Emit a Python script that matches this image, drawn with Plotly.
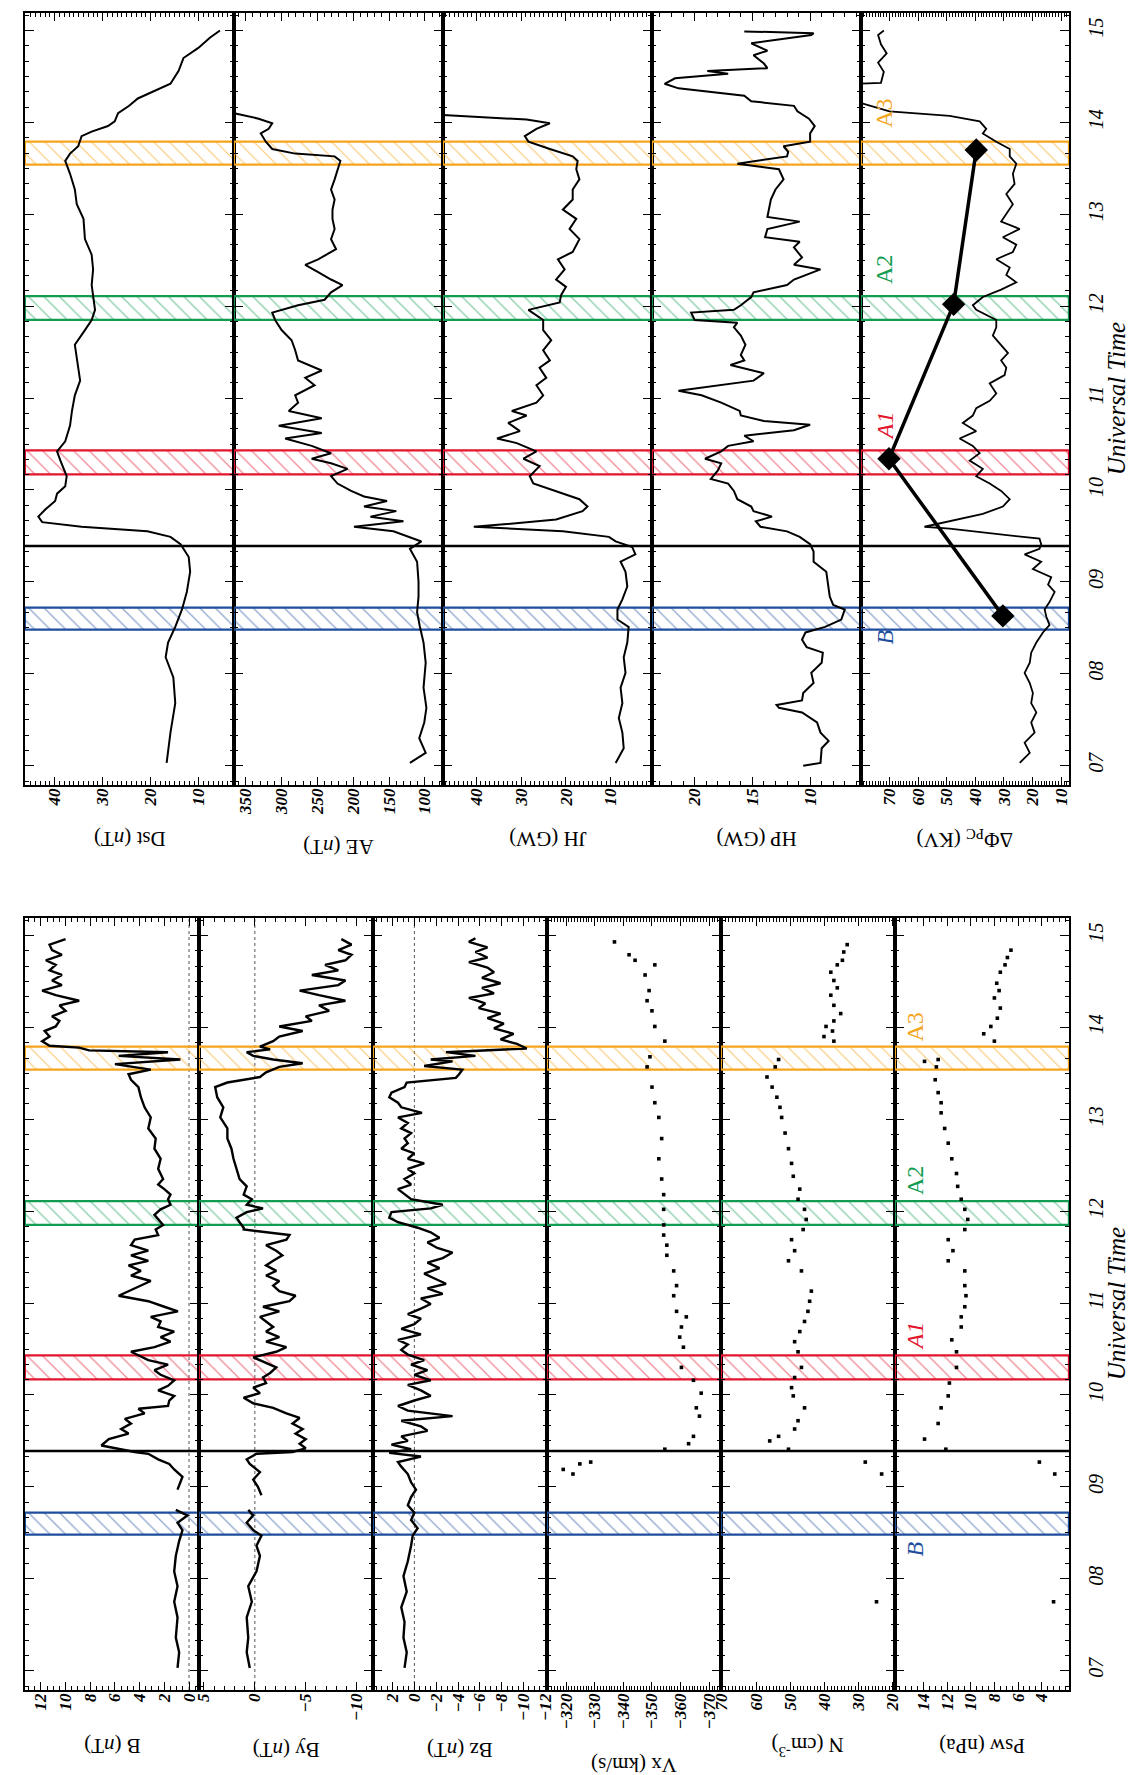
import plotly.graph_objects as go

W, H = 1136, 1775
SERIF = "Liberation Serif"

# ---------------- time axis ----------------
hours = [7, 8, 9, 10, 11, 12, 13, 14, 15]
hour_labels = ["07", "08", "09", "10", "11", "12", "13", "14", "15"]

# ---------------- event intervals ----------------
band_names = ["B", "A1", "A2", "A3"]
band_start = [8.48, 10.17, 11.85, 13.54]
band_end = [8.72, 10.43, 12.11, 13.79]
band_colors = ["#1f4e9e", "#e3142d", "#119c52", "#f5a41c"]
shock_time = 9.39

# ---------------- top block series ----------------
dst_t = [7.03, 7.36, 7.68, 7.96, 8.18, 8.34, 8.51, 8.70, 8.89, 9.11, 9.27, 9.41, 9.49, 9.55, 9.60, 9.65,
         9.71, 9.79, 9.88, 9.96, 10.04, 10.15, 10.32, 10.42, 10.53, 10.70, 10.86, 11.03, 11.19, 11.41,
         11.58, 11.74, 11.85, 11.96, 12.10, 12.23, 12.40, 12.56, 12.73, 12.95, 13.11, 13.27, 13.44,
         13.58, 13.66, 13.74, 13.85, 13.90, 13.96, 14.01, 14.10, 14.18, 14.26, 14.34, 14.42, 14.56,
         14.70, 14.81, 14.92, 15.0]
dst_v = [16.7, 15.9, 14.9, 15.3, 16.9, 16.4, 14.9, 13.5, 12.5, 11.8, 12.1, 13.8, 15.9, 20.7, 34.4, 42.6,
         43.4, 41.9, 39.9, 39.5, 37.8, 37.5, 38.8, 39.5, 37.8, 36.8, 36.4, 35.8, 34.7, 35.4,
         35.8, 33.7, 32.3, 31.6, 32.0, 32.3, 32.0, 32.3, 33.7, 34.0, 35.4, 35.8, 36.8,
         37.8, 36.8, 35.1, 34.4, 32.3, 28.9, 27.5, 26.8, 24.5, 22.7, 19.3, 15.9, 14.2,
         13.2, 10.1, 7.7, 5.6]

ae_t = [7.03, 7.14, 7.30, 7.47, 7.63, 7.85, 8.12, 8.34, 8.51, 8.67, 8.84, 9.00, 9.22, 9.36, 9.44, 9.49,
        9.55, 9.60, 9.66, 9.71, 9.77, 9.82, 9.88, 9.93, 9.99, 10.07, 10.15, 10.23, 10.29, 10.34, 10.40,
        10.48, 10.56, 10.62, 10.70, 10.78, 10.86, 10.95, 11.03, 11.14, 11.22, 11.30, 11.41, 11.52,
        11.63, 11.74, 11.85, 11.93, 12.01, 12.07, 12.15, 12.23, 12.29, 12.37, 12.45, 12.51, 12.62,
        12.73, 12.84, 12.95, 13.05, 13.16, 13.27, 13.38, 13.49, 13.58, 13.63, 13.66, 13.71, 13.79,
        13.88, 13.93, 13.99, 14.04, 14.10, 14.11]
ae_v = [121, 99, 108, 101, 98, 102, 99, 102, 107, 111, 109, 109, 111, 121, 105, 123,
        144, 199, 130, 176, 140, 185, 153, 185, 203, 222, 231, 208, 231, 258, 231,
        258, 295, 244, 304, 244, 290, 277, 281, 254, 267, 244, 277, 281,
        286, 300, 309, 313, 277, 240, 231, 215, 231, 249, 267, 249, 224,
        231, 226, 229, 229, 226, 231, 226, 222, 218, 226, 281, 313, 322,
        329, 318, 313, 332, 366, 385]

jh_t = [7.03, 7.19, 7.36, 7.52, 7.68, 7.85, 8.01, 8.18, 8.34, 8.51, 8.59, 8.70, 8.81, 8.95, 9.11, 9.22,
        9.30, 9.38, 9.44, 9.49, 9.55, 9.60, 9.63, 9.68, 9.77, 9.82, 9.90, 9.99, 10.07, 10.15, 10.26,
        10.34, 10.42, 10.51, 10.56, 10.64, 10.73, 10.81, 10.86, 10.95, 11.03, 11.14, 11.22, 11.33,
        11.41, 11.52, 11.63, 11.74, 11.85, 11.96, 12.04, 12.12, 12.21, 12.29, 12.40, 12.51, 12.59,
        12.73, 12.84, 12.95, 13.05, 13.16, 13.27, 13.38, 13.49, 13.58, 13.63, 13.71, 13.79, 13.85,
        13.93, 13.99, 14.03, 14.08, 14.09]
jh_v = [8.9, 7.1, 7.4, 8.2, 7.4, 7.8, 6.7, 7.1, 6.3, 6.0, 8.5, 8.5, 7.4, 6.3, 6.7, 7.8,
        4.5, 5.2, 8.9, 10.4, 20.7, 40.6, 33.2, 22.2, 16.3, 15.2, 17.0, 22.2, 27.3, 28.1, 25.9,
        29.5, 26.6, 31.0, 35.4, 30.3, 32.9, 28.8, 32.1, 26.6, 25.1, 26.6, 24.4, 25.9,
        23.6, 25.1, 23.3, 25.1, 25.1, 28.4, 21.4, 21.1, 20.0, 22.2, 20.3, 21.8, 18.5,
        17.0, 19.2, 17.7, 20.7, 18.5, 18.5, 17.0, 17.7, 17.4, 18.5, 23.6, 28.4, 29.2,
        26.6, 23.6, 28.8, 47.8, 55.0]

hp_t = [7.00, 7.03, 7.19, 7.27, 7.36, 7.47, 7.58, 7.63, 7.66, 7.71, 7.79, 7.90, 8.01, 8.12, 8.23, 8.29,
        8.37, 8.45, 8.51, 8.59, 8.70, 8.75, 8.84, 8.95, 9.11, 9.22, 9.33, 9.41, 9.49, 9.55, 9.60,
        9.66, 9.71, 9.77, 9.82, 9.90, 9.99, 10.07, 10.12, 10.21, 10.29, 10.34, 10.42, 10.48, 10.53,
        10.59, 10.65, 10.71, 10.75, 10.81, 10.86, 10.95, 11.03, 11.08, 11.19, 11.27, 11.36, 11.41,
        11.47, 11.58, 11.68, 11.77, 11.82, 11.85, 11.93, 11.96, 12.01, 12.10, 12.15, 12.23, 12.29,
        12.40, 12.45, 12.53, 12.64, 12.70, 12.75, 12.84, 12.92, 12.97, 13.05, 13.16, 13.27, 13.38,
        13.49, 13.55, 13.63, 13.68, 13.74, 13.79, 13.88, 13.96, 14.04, 14.12, 14.18, 14.23, 14.29,
        14.37, 14.42, 14.48, 14.53, 14.56, 14.59, 14.64, 14.73, 14.78, 14.86, 14.95, 14.97, 14.99]
hp_v = [10.6, 9.1, 9.0, 8.4, 9.1, 9.4, 10.7, 12.7, 12.9, 10.7, 10.6, 9.7, 9.9, 9.0, 8.9, 10.3,
        10.7, 10.4, 8.7, 7.3, 7.0, 8.0, 8.3, 8.4, 8.6, 9.7, 9.7, 10.0, 10.9, 12.0, 14.3,
        14.7, 13.3, 14.9, 15.1, 16.3, 16.6, 17.1, 18.6, 18.0, 17.7, 19.1, 17.7, 17.1, 14.9,
        15.7, 11.4, 10.0, 14.0, 16.0, 16.1, 17.7, 19.4, 21.4, 14.9, 14.0, 16.9, 15.7,
        16.0, 15.6, 16.0, 16.6, 16.3, 20.0, 20.3, 16.6, 16.0, 15.1, 14.9, 12.0, 11.4,
        9.1, 11.4, 10.7, 11.4, 10.9, 13.9, 13.7, 10.9, 13.7, 13.6, 13.4, 13.0, 12.3,
        12.7, 16.3, 12.0, 11.9, 12.3, 10.0, 10.0, 9.6, 10.1, 11.1, 11.4, 15.1, 15.7,
        21.4, 22.6, 21.7, 17.1, 18.9, 13.7, 14.0, 14.9, 13.7, 15.1, 9.9, 9.7, 15.7]

dphi_t = [7.03, 7.14, 7.25, 7.36, 7.47, 7.58, 7.68, 7.79, 7.90, 8.01, 8.12, 8.23, 8.34, 8.45, 8.53,
          8.62, 8.70, 8.78, 8.89, 8.97, 9.05, 9.14, 9.22, 9.30, 9.36, 9.41, 9.47, 9.52, 9.58, 9.60,
          9.66, 9.74, 9.82, 9.90, 9.99, 10.07, 10.15, 10.23, 10.32, 10.40, 10.48, 10.56, 10.64,
          10.73, 10.81, 10.89, 10.97, 11.05, 11.16, 11.25, 11.33, 11.41, 11.49, 11.60, 11.68, 11.77,
          11.85, 11.96, 12.01, 12.10, 12.18, 12.26, 12.34, 12.42, 12.51, 12.59, 12.67, 12.75, 12.84,
          12.92, 13.00, 13.11, 13.22, 13.33, 13.44, 13.55, 13.63, 13.71, 13.79, 13.88, 13.93, 14.01,
          14.07, 14.12, 14.21, 14.30, 14.40, 14.43, 14.55, 14.65, 14.75, 14.85, 14.95, 15.0]
dphi_v = [24.5, 21.0, 22.8, 19.3, 20.5, 18.7, 20.5, 19.9, 21.0, 22.8, 21.0, 20.5, 18.7, 16.4, 14.1,
          15.2, 15.8, 14.1, 12.3, 14.6, 13.5, 19.9, 17.0, 22.8, 17.6, 17.0, 17.6, 32.7, 49.0, 57.8,
          49.0, 37.4, 30.4, 28.0, 31.0, 35.0, 39.7, 37.4, 42.0, 38.5, 40.9, 45.5, 39.7,
          44.4, 40.9, 39.7, 35.0, 32.7, 35.0, 29.8, 29.2, 31.0, 28.6, 31.5, 33.9, 32.7,
          32.7, 39.7, 40.9, 37.4, 31.0, 25.7, 29.2, 28.0, 32.7, 26.9, 25.7, 30.4, 24.5,
          31.0, 29.2, 26.9, 29.2, 26.3, 26.9, 25.7, 28.0, 28.0, 32.7, 37.4, 36.2, 38.5,
          49.0, 70.0, 79.9, 95.0, 95.0, 73.0, 72.0, 74.0, 71.0, 73.0, 74.0, 72.0]

pc_t = [8.63, 10.34, 12.02, 13.70]
pc_v = [30.4, 70.2, 47.6, 39.7]

# ---------------- bottom block series ----------------
b_t = [7.03, 7.20, 7.36, 7.58, 7.75, 7.92, 8.08, 8.25, 8.41, 8.53, 8.61, 8.69, 8.75, 8.83, 8.97, 9.11,
       9.19, 9.25, 9.30, 9.36, 9.38, 9.42, 9.45, 9.52, 9.58, 9.63, 9.69, 9.74, 9.80, 9.85, 9.88,
       9.94, 9.99, 10.05, 10.10, 10.16, 10.22, 10.27, 10.33, 10.38, 10.47, 10.52, 10.58, 10.63,
       10.69, 10.74, 10.80, 10.85, 10.91, 10.96, 11.02, 11.08, 11.13, 11.19, 11.24, 11.30, 11.35,
       11.41, 11.46, 11.52, 11.57, 11.63, 11.69, 11.74, 11.80, 11.85, 11.91, 11.96, 12.02, 12.07,
       12.13, 12.18, 12.24, 12.29, 12.35, 12.40, 12.46, 12.57, 12.68, 12.79, 12.90, 13.02, 13.13,
       13.24, 13.35, 13.43, 13.49, 13.54, 13.60, 13.65, 13.69, 13.73, 13.75, 13.78, 13.80, 13.85,
       13.90, 13.96, 14.01, 14.07, 14.12, 14.18, 14.24, 14.29, 14.35, 14.40, 14.46, 14.51, 14.57,
       14.62, 14.68, 14.73, 14.79, 14.84, 14.90, 14.96]
b_v = [0.93, 0.8, 1.07, 0.93, 1.2, 0.93, 1.2, 1.07, 0.8, 0.53, 0.93, 0.13, 1.07, None, 0.93, 0.53,
       1.2, 1.6, 2.5, 3.3, 4.4, 6.0, 7.1, 6.5, 4.9, 5.5, 4.7, 5.2, 3.6, 4.1, 1.7,
       1.6, 1.2, 2.5, 1.7, 1.2, 2.3, 2.8, 1.7, 3.3, 4.7, 2.8, 1.5, 2.3,
       1.2, 2.5, 2.3, 3.1, 0.9, 2.0, 3.3, 5.7, 4.9, 3.9, 3.1, 4.7, 3.9,
       4.9, 3.3, 4.7, 3.3, 4.7, 4.4, 2.5, 2.7, 2.1, 2.5, 2.8, 2.3, 1.5,
       1.7, 1.5, 2.0, 2.5, 2.1, 2.3, 2.5, 2.3, 2.8, 2.7, 3.3, 3.1, 3.6,
       3.9, 4.1, 4.7, 4.9, 3.1, 6.0, 0.7, 5.7, 1.7, 8.1, 8.9, 11.3, 11.9,
       11.3, 11.7, 10.8, 10.5, 11.1, 10.0, 10.5, 8.9, 10.8, 11.9, 10.3, 11.1, 10.3,
       11.3, 10.8, 11.6, 10.3, 11.1, 11.3, 10.0]

by_t = [7.03, 7.20, 7.36, 7.58, 7.75, 7.92, 8.08, 8.25, 8.36, 8.47, 8.53, 8.61, 8.69, 8.75, 8.83, 8.91,
        9.00, 9.08, 9.16, 9.25, 9.30, 9.36, 9.38, 9.42, 9.47, 9.52, 9.58, 9.63, 9.69, 9.75, 9.80,
        9.86, 9.91, 9.97, 10.02, 10.08, 10.13, 10.19, 10.24, 10.30, 10.35, 10.41, 10.47, 10.52,
        10.58, 10.63, 10.69, 10.74, 10.80, 10.85, 10.91, 10.96, 11.02, 11.08, 11.13, 11.19, 11.24,
        11.30, 11.35, 11.41, 11.46, 11.52, 11.57, 11.63, 11.69, 11.74, 11.80, 11.82, 11.88, 11.93,
        11.99, 12.03, 12.07, 12.13, 12.18, 12.27, 12.35, 12.46, 12.57, 12.68, 12.79, 12.90, 13.02,
        13.13, 13.24, 13.35, 13.40, 13.46, 13.51, 13.57, 13.61, 13.65, 13.69, 13.73, 13.76, 13.79,
        13.85, 13.90, 13.96, 14.01, 14.07, 14.12, 14.18, 14.24, 14.29, 14.35, 14.40, 14.46, 14.51,
        14.57, 14.62, 14.68, 14.73, 14.79, 14.84, 14.90, 14.96]
by_v = [0.5, 0.8, 0.65, 0.8, 0.3, 0.65, -0.16, -0.5, -0.16, -0.65, 0.16, 0.8, 0.16, 0.65, None, -0.65,
        -0.3, 0.16, -0.5, 0.5, 0.8, -0.16, -3.7, -5.0, -4.4, -5.0, -4.0, -4.7, -3.7, -4.4, -3.1,
        -1.8, 0.16, 1.1, -0.5, 0.16, -1.1, -0.8, -1.5, -2.1, -1.1, 0.16, -2.1, -3.1,
        -1.1, -2.4, -1.1, -1.8, -1.1, -0.5, -2.4, -0.8, -3.4, -4.0, -2.4, -1.8, -2.4,
        -1.1, -2.1, -1.1, -1.8, -2.7, -2.1, -1.1, -3.1, -3.4, 1.1, 1.1, 1.5, 1.8,
        0.8, -0.8, 0.8, 0.3, 1.1, 0.8, 1.5, 1.8, 2.1, 2.3, 2.7, 2.7, 3.4,
        3.1, 3.7, 3.9, 2.7, -0.5, -1.1, -2.4, -4.7, -1.8, 0.16, 0.8, -1.5, -0.5,
        -1.8, -2.4, -4.7, -2.4, -5.6, -5.0, -7.3, -6.3, -8.9, -6.3, -4.4, -8.2, -8.9,
        -5.6, -8.2, -6.9, -8.9, -9.5, -8.2, -9.5, -8.5]

bz_t = [7.03, 7.20, 7.36, 7.53, 7.69, 7.86, 8.03, 8.19, 8.36, 8.47, 8.55, 8.64, 8.72, 8.80, 8.89, 8.97,
        9.05, 9.14, 9.22, 9.27, 9.33, 9.37, 9.41, 9.46, 9.50, 9.55, 9.61, 9.66, 9.72, 9.77, 9.83,
        9.88, 9.94, 9.99, 10.05, 10.11, 10.16, 10.22, 10.27, 10.33, 10.38, 10.44, 10.49, 10.55,
        10.60, 10.66, 10.72, 10.77, 10.83, 10.88, 10.94, 10.99, 11.05, 11.10, 11.16, 11.21, 11.27,
        11.32, 11.38, 11.44, 11.49, 11.55, 11.60, 11.66, 11.71, 11.77, 11.82, 11.88, 11.93, 11.99,
        12.03, 12.07, 12.13, 12.18, 12.24, 12.29, 12.35, 12.41, 12.46, 12.52, 12.57, 12.63, 12.68,
        12.74, 12.79, 12.85, 12.90, 12.96, 13.02, 13.07, 13.13, 13.18, 13.24, 13.29, 13.35, 13.40,
        13.45, 13.49, 13.54, 13.58, 13.63, 13.65, 13.69, 13.73, 13.75, 13.77, 13.82, 13.87, 13.93,
        13.99, 14.04, 14.10, 14.15, 14.21, 14.26, 14.32, 14.37, 14.43, 14.48, 14.54, 14.60, 14.65,
        14.71, 14.76, 14.82, 14.87, 14.93, 14.97]
bz_v = [0.9, 0.7, 1.0, 0.9, 1.2, 0.7, 1.0, 0.6, 0.3, 0.15, -0.3, 0.3, 0.0, 0.6, 0.3, -0.15,
        0.3, 0.6, 1.2, 1.5, -0.6, 2.3, 0.3, 2.1, 0.6, 1.2, -1.2, -0.6, 1.2, -3.5, 0.6,
        1.5, 0.0, -1.5, -0.6, 0.6, -1.5, 0.0, -1.2, 0.3, -0.9, 0.6, 1.2, 0.6,
        1.5, -0.6, 1.2, 0.0, -0.6, 0.6, -0.6, -1.5, -0.6, -2.6, -1.2, -2.9, -1.8,
        -0.9, -2.3, -1.2, -2.6, -3.5, -2.1, -1.2, -2.3, -1.5, -0.3, 1.5, 2.3, 2.1,
        -1.5, -2.6, 0.3, 0.9, 1.5, 0.3, 0.9, 0.0, 0.6, -0.9, 0.6, 0.0, 1.2,
        0.6, 0.9, 0.3, 1.2, 0.6, 1.5, -0.7, 1.2, 1.5, 2.3, 2.1, 0.9, 0.7,
        -3.8, -4.1, -4.4, -0.9, -3.5, -1.5, -5.6, -2.9, -7.3, -10.3, -9.4, -7.9, -9.1,
        -7.3, -8.2, -6.7, -7.9, -5.9, -6.5, -5.0, -7.3, -6.2, -7.9, -6.2, -7.3, -6.7,
        -5.0, -6.7, -5.6, -6.7, -5.0, -5.6]

vx_t = [9.14, 9.19, 9.25, 9.27, 9.41, 9.47, 9.55, 9.77, 9.86, 10.02, 10.16, 10.30, 10.52, 10.63, 10.74,
        10.85, 10.91, 11.08, 11.19, 11.35, 11.52, 11.63, 11.74, 11.85, 12.02, 12.18, 12.35, 12.57,
        12.79, 13.02, 13.18, 13.35, 13.57, 13.68, 13.85, 14.01, 14.18, 14.29, 14.40, 14.57, 14.68,
        14.73, 14.79, 14.93]
vx_v = [-322.4, -319.0, -324.8, -328.6, -354.5, -362.8, -364.5, -366.6, -365.5, -367.2, -364.5,
        -360.3, -361.0, -359.7, -360.3, -362.0, -358.6, -357.6, -358.6, -357.6, -355.2, -355.2,
        -354.1, -354.1, -354.1, -354.1, -353.4, -352.4, -353.4, -352.4, -351.0, -350.0, -348.3,
        -349.3, -354.5, -351.0, -350.0, -348.3, -349.0, -347.6, -351.0, -344.1, -342.0, -336.9]

n_t = [7.75, 9.14, 9.27, 9.41, 9.50, 9.55, 9.63, 9.72, 9.86, 9.99, 10.08, 10.19, 10.30, 10.47, 10.58,
       10.69, 10.80, 10.91, 11.02, 11.13, 11.35, 11.46, 11.57, 11.69, 11.80, 11.91, 12.02, 12.13,
       12.24, 12.38, 12.52, 12.68, 12.85, 13.02, 13.13, 13.24, 13.35, 13.46, 13.57, 13.65, 13.85,
       13.90, 13.96, 14.01, 14.07, 14.15, 14.24, 14.35, 14.43, 14.51, 14.60, 14.68, 14.73, 14.82,
       14.90]
n_v = [24.7, 23.2, 28.0, 50.5, 56.0, 53.4, 48.7, 47.7, 45.8, 49.1, 49.6, 48.7, 46.7, 47.7, 48.7,
       47.2, 45.8, 44.8, 44.3, 43.8, 46.7, 50.5, 48.7, 49.6, 46.2, 45.3, 45.8, 47.7,
       47.2, 49.1, 49.6, 50.5, 51.5, 52.5, 53.0, 53.9, 55.3, 56.8, 54.4, 53.4, 37.2,
       40.1, 37.6, 39.5, 37.2, 35.2, 37.2, 38.1, 36.2, 37.2, 38.1, 36.2, 34.7, 34.3,
       33.3]

psw_t = [7.75, 9.14, 9.27, 9.41, 9.52, 9.69, 9.86, 9.99, 10.13, 10.30, 10.47, 10.60, 10.74, 10.85,
         10.96, 11.08, 11.19, 11.35, 11.46, 11.57, 11.69, 11.80, 11.91, 12.02, 12.13, 12.27, 12.41,
         12.57, 12.74, 12.90, 13.07, 13.18, 13.29, 13.43, 13.57, 13.63, 13.65, 13.85, 13.93, 14.01,
         14.10, 14.21, 14.32, 14.40, 14.48, 14.60, 14.68, 14.76, 14.84]
psw_v = [3.0, 2.9, 4.2, 12.1, 13.9, 12.75, 12.5, 11.9, 11.8, 11.2, 11.2, 11.6, 10.8, 10.8,
         10.5, 10.4, 10.5, 10.5, 11.9, 11.5, 11.9, 10.5, 10.25, 10.5, 10.8, 11.1, 11.2,
         11.6, 11.9, 12.2, 12.5, 12.5, 12.75, 13.0, 12.9, 13.9, 12.75, 8.0, 8.9, 8.3,
         7.75, 7.5, 8.0, 7.6, 7.8, 7.5, 7.1, 6.9, 6.6]

# ---------------- panel definitions ----------------
TOP = (5, 777)
BOT = (910, 1682)
top_edges = [9, 221, 433, 645, 857, 1068]
bot_edges = [9, 185.5, 362, 538.5, 715, 891.5, 1068]
T_RANGE = [6.79, 15.19]

panels = [
    dict(block=TOP, x0=top_edges[0], x1=top_edges[1], rng=[46.2, 2.7], tv=[10, 20, 30, 40], mdt=1,
         title="Dst (<i>n</i>T)", ty=831, series=[(dst_t, dst_v, "lines")], lw=2),
    dict(block=TOP, x0=top_edges[1], x1=top_edges[2], rng=[366.5, 75], tv=[100, 150, 200, 250, 300, 350], mdt=10,
         title="AE (<i>n</i>T)", ty=839, series=[(ae_t, ae_v, "lines")], lw=2),
    dict(block=TOP, x0=top_edges[2], x1=top_edges[3], rng=[47.5, 0.8], tv=[10, 20, 30, 40], mdt=1,
         title="JH (GW)", ty=831, series=[(jh_t, jh_v, "lines")], lw=2),
    dict(block=TOP, x0=top_edges[3], x1=top_edges[4], rng=[23.7, 5.6], tv=[10, 15, 20], mdt=1,
         title="HP (GW)", ty=831, series=[(hp_t, hp_v, "lines")], lw=2),
    dict(block=TOP, x0=top_edges[4], x1=top_edges[5], rng=[80.0, 7.3], tv=[10, 20, 30, 40, 50, 60, 70], mdt=1,
         title="ΔΦ<sub>PC</sub> (KV)", ty=831, series=[(dphi_t, dphi_v, "lines")], lw=1.8),
    dict(block=BOT, x0=bot_edges[0], x1=bot_edges[1], rng=[13.3, -0.8], tv=[0, 2, 4, 6, 8, 10, 12], mdt=0.5,
         title="B (<i>n</i>T)", ty=1738, series=[(b_t, b_v, "lines")], zero=True, lw=2.4),
    dict(block=BOT, x0=bot_edges[1], x1=bot_edges[2], rng=[5.5, -11.6], tv=[-10, -5, 0, 5], mdt=1,
         title="By (<i>n</i>T)", ty=1742, series=[(by_t, by_v, "lines")], zero=True, lw=2.4),
    dict(block=BOT, x0=bot_edges[2], x1=bot_edges[3], rng=[3.8, -12.15], tv=[-12, -10, -8, -6, -4, -2, 0, 2], mdt=0.5,
         title="Bz (<i>n</i>T)", ty=1742, series=[(bz_t, bz_v, "lines")], zero=True, lw=2.4),
    dict(block=BOT, x0=bot_edges[3], x1=bot_edges[4], rng=[-313.3, -374.1], tv=[-370, -360, -350, -340, -330, -320], mdt=1,
         title="Vx (km/s)", ty=1757, series=[(vx_t, vx_v, "markers")], lw=2),
    dict(block=BOT, x0=bot_edges[4], x1=bot_edges[5], rng=[70.3, 19.3], tv=[20, 30, 40, 50, 60, 70], mdt=1,
         title="N (cm<sup>-3</sup>)", ty=1739, series=[(n_t, n_v, "markers")], lw=2),
    dict(block=BOT, x0=bot_edges[5], x1=bot_edges[6], rng=[16.4, 1.7], tv=[4, 6, 8, 10, 12, 14], mdt=0.5,
         title="Psw (nPa)", ty=1738, series=[(psw_t, psw_v, "markers")], lw=2),
]

fig = go.Figure()
layout = dict(width=W, height=H, margin=dict(l=0, r=0, t=0, b=0),
              paper_bgcolor="white", plot_bgcolor="white", showlegend=False)
shapes = []
annotations = []

for i, p in enumerate(panels, start=1):
    xa = "x" if i == 1 else f"x{i}"
    ya = "y" if i == 1 else f"y{i}"
    xdom = [p["x0"] / W, p["x1"] / W]
    ydom = [1 - p["block"][1] / H, 1 - p["block"][0] / H]
    last = (i == 5) or (i == 11)
    layout["xaxis" if i == 1 else f"xaxis{i}"] = dict(
        domain=xdom, range=p["rng"], anchor=ya, showline=True, linecolor="black", linewidth=1.5,
        mirror="allticks", ticks="inside", ticklen=8, tickwidth=1.2, tickcolor="black",
        tickmode="array", tickvals=p["tv"], tickangle=-90, ticklabelstandoff=-5,
        tickfont=dict(family=SERIF, size=17, color="black", weight="bold", style="italic"),
        showgrid=False, zeroline=False,
        minor=dict(ticks="inside", ticklen=4, tickwidth=1, tickcolor="black",
                   tickmode="linear", tick0=0, dtick=p["mdt"], showgrid=False))
    ykw = dict(
        domain=ydom, range=T_RANGE, anchor=xa, showline=True, linecolor="black", linewidth=1.5,
        mirror="allticks", ticks="inside", ticklen=9, tickwidth=1.2, tickcolor="black",
        tickmode="array", tickvals=hours, showgrid=False, zeroline=False,
        minor=dict(ticks="inside", ticklen=4, tickwidth=1, tickcolor="black",
                   tickmode="linear", tick0=7, dtick=1 / 6, showgrid=False))
    if last:
        ykw.update(ticktext=hour_labels, showticklabels=True, side="right", tickangle=-90,
                   ticklabelstandoff=8,
                   tickfont=dict(family=SERIF, size=20, color="black", style="italic"))
    else:
        ykw.update(showticklabels=False)
    layout["yaxis" if i == 1 else f"yaxis{i}"] = ykw

    lo, hi = p["rng"]
    for name, s0, s1, col in zip(band_names, band_start, band_end, band_colors):
        fig.add_trace(go.Scatter(
            x=[lo, hi, hi, lo, lo], y=[s0, s0, s1, s1, s0], xaxis=xa, yaxis=ya,
            mode="lines", fill="toself", fillcolor="rgba(0,0,0,0)",
            fillpattern=dict(shape="\\", fgcolor=col, bgcolor="rgba(0,0,0,0)", size=11,
                             solidity=0.12, fillmode="overlay"),
            line=dict(color=col, width=2.2), hoverinfo="skip"))

    if p.get("zero"):
        shapes.append(dict(type="line", xref=xa, x0=0, x1=0, yref=f"{ya} domain", y0=0, y1=1,
                           line=dict(color="#555555", width=1, dash="dot"), layer="below"))

    for ts, vs, mode in p["series"]:
        if mode == "lines":
            fig.add_trace(go.Scatter(x=vs, y=ts, xaxis=xa, yaxis=ya, mode="lines",
                                     line=dict(color="black", width=p["lw"]), connectgaps=False,
                                     hoverinfo="skip"))
        else:
            fig.add_trace(go.Scatter(x=vs, y=ts, xaxis=xa, yaxis=ya, mode="markers",
                                     marker=dict(symbol="square", size=3.6, color="black"),
                                     hoverinfo="skip"))

    annotations.append(dict(text=p["title"], xref="paper", yref="paper",
                            x=(p["x0"] + p["x1"]) / 2 / W, y=1 - p["ty"] / H,
                            xanchor="center", yanchor="middle",
                            showarrow=False, textangle=180,
                            font=dict(family=SERIF, size=21, color="black")))

# polar cap potential markers
fig.add_trace(go.Scatter(x=pc_v, y=pc_t, xaxis="x5", yaxis="y5", mode="lines+markers",
                         line=dict(color="black", width=3.5),
                         marker=dict(symbol="diamond", size=18, color="black"), hoverinfo="skip"))

# shock line across each block
for blk, ya in ((TOP, "y"), (BOT, "y6")):
    shapes.append(dict(type="line", xref="paper", x0=9 / W, x1=1068 / W, yref=ya,
                       y0=shock_time, y1=shock_time, line=dict(color="black", width=2.6)))
    annotations.append(dict(text="<i>Universal Time</i>", xref="paper", yref="paper",
                            x=1116 / W, y=1 - (blk[0] + blk[1]) / 2 / H, showarrow=False,
                            xanchor="center", yanchor="middle",
                            textangle=-90, font=dict(family=SERIF, size=25, color="black")))

# interval labels
label_t_top = [8.40, 10.70, 12.40, 14.10]
label_t_bot = [8.32, 10.64, 12.33, 14.00]
for name, col, lt, lb in zip(band_names, band_colors, label_t_top, label_t_bot):
    txt = "<i>" + name + "</i>" if name in ("B", "A1") else name
    annotations.append(dict(text=txt, xref="paper", yref="y", x=881 / W, y=lt, showarrow=False,
                            xanchor="center", yanchor="middle",
                            textangle=-90, font=dict(family=SERIF, size=24, color=col)))
    annotations.append(dict(text=txt, xref="paper", yref="y6", x=912 / W, y=lb, showarrow=False,
                            xanchor="center", yanchor="middle",
                            textangle=-90, font=dict(family=SERIF, size=24, color=col)))

layout["shapes"] = shapes
layout["annotations"] = annotations
fig.update_layout(**layout)
fig.write_html("out.html")
